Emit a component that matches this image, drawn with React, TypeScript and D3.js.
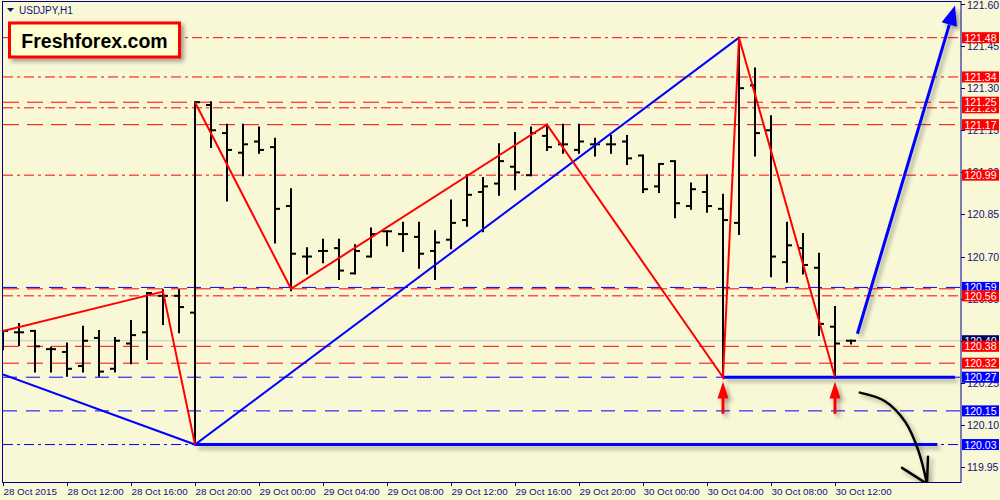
import React from 'react';
import * as d3 from 'd3';

// ---- data ----
const opens = [120.43,120.43,120.435,120.37,120.36,120.31,120.41,120.30,120.39,120.43,120.56,120.56,120.50,121.24,121.14,121.07,121.11,121.09,120.88,120.70,120.72,120.73,120.64,120.70,120.79,120.78,120.77,120.72,120.76,120.83,120.93,120.96,121.02,120.99,121.13,121.10,121.08,121.10,121.10,121.11,121.06,120.95,121.04,120.88,120.93,120.87,120.82,121.31,121.15,120.68,120.73,120.66,120.45,120.40];
const highs = [120.435,120.46,120.435,120.375,120.39,120.45,120.435,120.41,120.47,120.57,120.58,120.58,121.25,121.25,121.17,121.17,121.16,121.12,120.94,120.73,120.76,120.76,120.74,120.80,120.79,120.82,120.82,120.79,120.90,120.99,120.98,121.10,121.14,121.16,121.17,121.17,121.17,121.12,121.13,121.13,121.06,121.03,121.04,120.96,120.99,120.92,121.48,121.37,121.20,120.82,120.78,120.71,120.52,120.40];
const lows = [120.37,120.385,120.29,120.29,120.275,120.29,120.275,120.29,120.32,120.335,120.46,120.43,120.03,121.09,120.90,120.99,121.07,120.75,120.58,120.64,120.68,120.62,120.64,120.70,120.74,120.72,120.66,120.62,120.73,120.81,120.79,120.92,120.94,120.99,121.08,121.07,121.07,121.06,121.07,121.03,120.93,120.93,120.84,120.87,120.86,120.27,120.78,121.06,120.63,120.61,120.64,120.42,120.27,120.39];
const closes = [120.435,120.43,120.38,120.37,120.30,120.40,120.29,120.40,120.42,120.57,120.56,120.52,121.25,121.15,121.08,121.10,121.08,120.87,120.71,120.70,120.72,120.65,120.72,120.78,120.79,120.78,120.71,120.75,120.82,120.92,120.95,121.04,121.00,121.14,121.09,121.10,121.11,121.10,121.10,121.05,120.94,121.03,120.89,120.94,120.88,120.83,121.30,121.14,120.70,120.74,120.67,120.46,120.39,120.40];

const timeTickBars = [0,4,8,12,16,20,24,28,32,36,40,44,48,52];
const timeTickLabels = ['28 Oct 2015','28 Oct 12:00','28 Oct 16:00','28 Oct 20:00','29 Oct 00:00','29 Oct 04:00','29 Oct 08:00','29 Oct 12:00','29 Oct 16:00','29 Oct 20:00','30 Oct 00:00','30 Oct 04:00','30 Oct 08:00','30 Oct 12:00'];
const priceTicks = [121.60,121.45,121.30,121.15,121.00,120.85,120.70,120.55,120.40,120.25,120.10,119.95];

const redDashDotLevels = [121.48,121.34,121.23,120.99,120.56];
const redDashLevels = [121.25,121.17,120.585,120.38,120.32];
const blueDashLevels = [120.59,120.27,120.15];
const blueDashDotLevels = [120.03];
const redLabelLevels = [121.48,121.34,121.23,121.25,121.17,120.99,120.56,120.38,120.32];
const blueLabelLevels = [120.59,120.27,120.15,120.03];
const currentPrice = 120.40;

const thickBlueFrom = [45,12];
const thickBlueTo = [59.5,58.4];
const thickBluePrice = [120.27,120.03];

const redZigA = [[0,120.435],[10,120.575],[12,120.03]];
const redZigB = [[12,121.25],[18,120.585],[34,121.17],[45,120.27],[46,121.48],[52,120.27]];
const blueZig = [[0,120.28],[12,120.03],[46,121.48]];
const blueArrow = [[53.4,120.425],[59.5,121.595]];
const blackCurve = [[53.55,120.215],[55.1,120.185],[56.4,120.11],[57.2,120.01],[57.75,119.89]];
const upArrowBars = [45,52];
const upArrowTip = 120.255;
const upArrowTail = 120.14;

const BG = '#f8f8d6';
const NAVY = '#10107a';
const FONT = '"Liberation Sans", Arial, sans-serif';

export default function App() {
  const x = d3.scaleLinear().domain([0, 1]).range([3, 19]);
  const y = d3.scaleLinear().domain([119.95, 121.60]).range([467, 4]);
  const left = 3, right = 961, top = 1, bottom = 482;

  const line = d3.line<number[]>().x(d => x(d[0])).y(d => y(d[1]));
  const curve = d3.line<number[]>().x(d => x(d[0])).y(d => y(d[1])).curve(d3.curveCatmullRom);

  const [bx0, by0] = [x(blueArrow[0][0]), y(blueArrow[0][1])];
  const [bx1, by1] = [x(blueArrow[1][0]), y(blueArrow[1][1])];
  const ang = Math.atan2(by1 - by0, bx1 - bx0);
  const hl = 20, hw = 8;
  const baseX = bx1 - hl * Math.cos(ang), baseY = by1 - hl * Math.sin(ang);
  const headPts = [
    [bx1, by1],
    [baseX + hw * Math.sin(ang), baseY - hw * Math.cos(ang)],
    [baseX - hw * Math.sin(ang), baseY + hw * Math.cos(ang)],
  ];

  const last = blackCurve[blackCurve.length - 1];
  const tipX = x(last[0]), tipY = y(last[1]);

  const label = (p: number, fill: string, key: string) => (
    <g key={key}>
      <rect x={962} y={y(p) - 5.5} width={37} height={11} fill={fill} />
      <text x={980.5} y={y(p) + 4} fill="#fff" fontSize={10.5} fontFamily={FONT} textAnchor="middle">{p.toFixed(2)}</text>
    </g>
  );

  return (
    <svg width={1000} height={500} style={{ position: 'absolute', left: 0, top: 0, display: 'block' }}>
      <defs>
        <clipPath id="plot"><rect x={left} y={top} width={right - left} height={bottom - top} /></clipPath>
        <filter id="sh" filterUnits="userSpaceOnUse" x={0} y={0} width={1000} height={500}>
          <feDropShadow dx={3} dy={3} stdDeviation={2} floodColor="#000" floodOpacity={0.35} />
        </filter>
      </defs>
      <rect x={0} y={0} width={1000} height={500} fill={BG} />

      <g clipPath="url(#plot)">
        {redDashDotLevels.map((p, i) => (
          <line key={'rdd' + i} x1={left} x2={right} y1={y(p)} y2={y(p)} stroke="#ff0000" strokeWidth={1} strokeDasharray="10,4,3,4" />
        ))}
        {redDashLevels.map((p, i) => (
          <line key={'rd' + i} x1={left} x2={right} y1={y(p)} y2={y(p)} stroke="#ff0000" strokeWidth={1} strokeDasharray="16,8" />
        ))}
        {blueDashLevels.map((p, i) => (
          <line key={'bd' + i} x1={left} x2={right} y1={y(p)} y2={y(p)} stroke="#0000ff" strokeWidth={1} strokeDasharray="14,9" />
        ))}
        {blueDashDotLevels.map((p, i) => (
          <line key={'bdd' + i} x1={left} x2={right} y1={y(p)} y2={y(p)} stroke="#0000ff" strokeWidth={1} strokeDasharray="10,4,3,4" />
        ))}
        <line x1={left} x2={right} y1={y(currentPrice)} y2={y(currentPrice)} stroke="#c8c8c8" strokeWidth={1} />

        {thickBluePrice.map((p, i) => (
          <line key={'tb' + i} x1={x(thickBlueFrom[i])} x2={x(thickBlueTo[i])} y1={y(p)} y2={y(p)} stroke="#0000ff" strokeWidth={3} filter="url(#sh)" />
        ))}

        {opens.map((o, i) => (
          <g key={'b' + i} stroke="#000" strokeWidth={2}>
            <line x1={x(i)} x2={x(i)} y1={y(highs[i]) - 1} y2={y(lows[i]) + 1} />
            <line x1={x(i) - 5} x2={x(i)} y1={y(o)} y2={y(o)} />
            <line x1={x(i)} x2={x(i) + 5} y1={y(closes[i])} y2={y(closes[i])} />
          </g>
        ))}

        <path d={line(blueZig as any) || ''} fill="none" stroke="#0000ff" strokeWidth={2} />
        <path d={line(redZigA as any) || ''} fill="none" stroke="#ff0000" strokeWidth={2} />
        <path d={line(redZigB as any) || ''} fill="none" stroke="#ff0000" strokeWidth={2} />

        <g filter="url(#sh)">
          <line x1={bx0} y1={by0} x2={baseX} y2={baseY} stroke="#0000ff" strokeWidth={3} />
          <polygon points={headPts.map(p => p.join(',')).join(' ')} fill="#0000ff" />
        </g>

        <g filter="url(#sh)" stroke="#000" strokeWidth={2.5} fill="none" strokeLinecap="round">
          <path d={curve(blackCurve as any) || ''} />
          <path d={`M${tipX - 25},${tipY - 16} L${tipX},${tipY} L${tipX + 1},${tipY - 27}`} />
        </g>

        {upArrowBars.map((b, i) => {
          const cx = x(b), ty = y(upArrowTip), by = y(upArrowTail);
          return (
            <g key={'ua' + i} filter="url(#sh)">
              <polygon points={`${cx},${ty} ${cx - 5.5},${ty + 17} ${cx - 1.5},${ty + 17} ${cx - 1.5},${by} ${cx + 1.5},${by} ${cx + 1.5},${ty + 17} ${cx + 5.5},${ty + 17}`} fill="#ff0000" />
            </g>
          );
        })}
      </g>

      <rect x={left - 0.5} y={top + 0.5} width={right - left + 0.5} height={bottom - top} fill="none" stroke="#00008b" strokeWidth={1} />
      {priceTicks.map((p, i) => (
        <g key={'pt' + i}>
          <line x1={right} x2={right + 4} y1={Math.round(y(p)) + 0.5} y2={Math.round(y(p)) + 0.5} stroke="#00008b" />
          <text x={967} y={Math.max(y(p) + 4, 9)} fill={NAVY} fontSize={10.5} fontFamily={FONT}>{p.toFixed(2)}</text>
        </g>
      ))}
      {timeTickBars.map((b, i) => (
        <g key={'tt' + i}>
          <line x1={Math.round(x(b)) + 0.5} x2={Math.round(x(b)) + 0.5} y1={bottom} y2={bottom + 4} stroke="#00008b" />
          <text x={x(b) + 0.5} y={495} fill={NAVY} fontSize={9.8} fontFamily={FONT}>{timeTickLabels[i]}</text>
        </g>
      ))}

      {label(currentPrice, '#000064', 'cur')}
      {blueLabelLevels.map((p, i) => label(p, '#0000ff', 'bl' + i))}
      {redLabelLevels.map((p, i) => label(p, '#ff0000', 'rl' + i))}

      <polygon points="7,8 14,8 10.5,12" fill={NAVY} />
      <text x={19} y={14} fill={NAVY} fontSize={10} fontFamily={FONT}>USDJPY,H1</text>

      <g filter="url(#sh)">
        <rect x={9.5} y={23} width={170} height={34} fill="#ffffd2" stroke="#ff0000" strokeWidth={3} />
      </g>
      <text x={94.5} y={48} textAnchor="middle" fontSize={19.5} fontWeight="bold" fontFamily={FONT} fill="#000">Freshforex.com</text>
    </svg>
  );
}
